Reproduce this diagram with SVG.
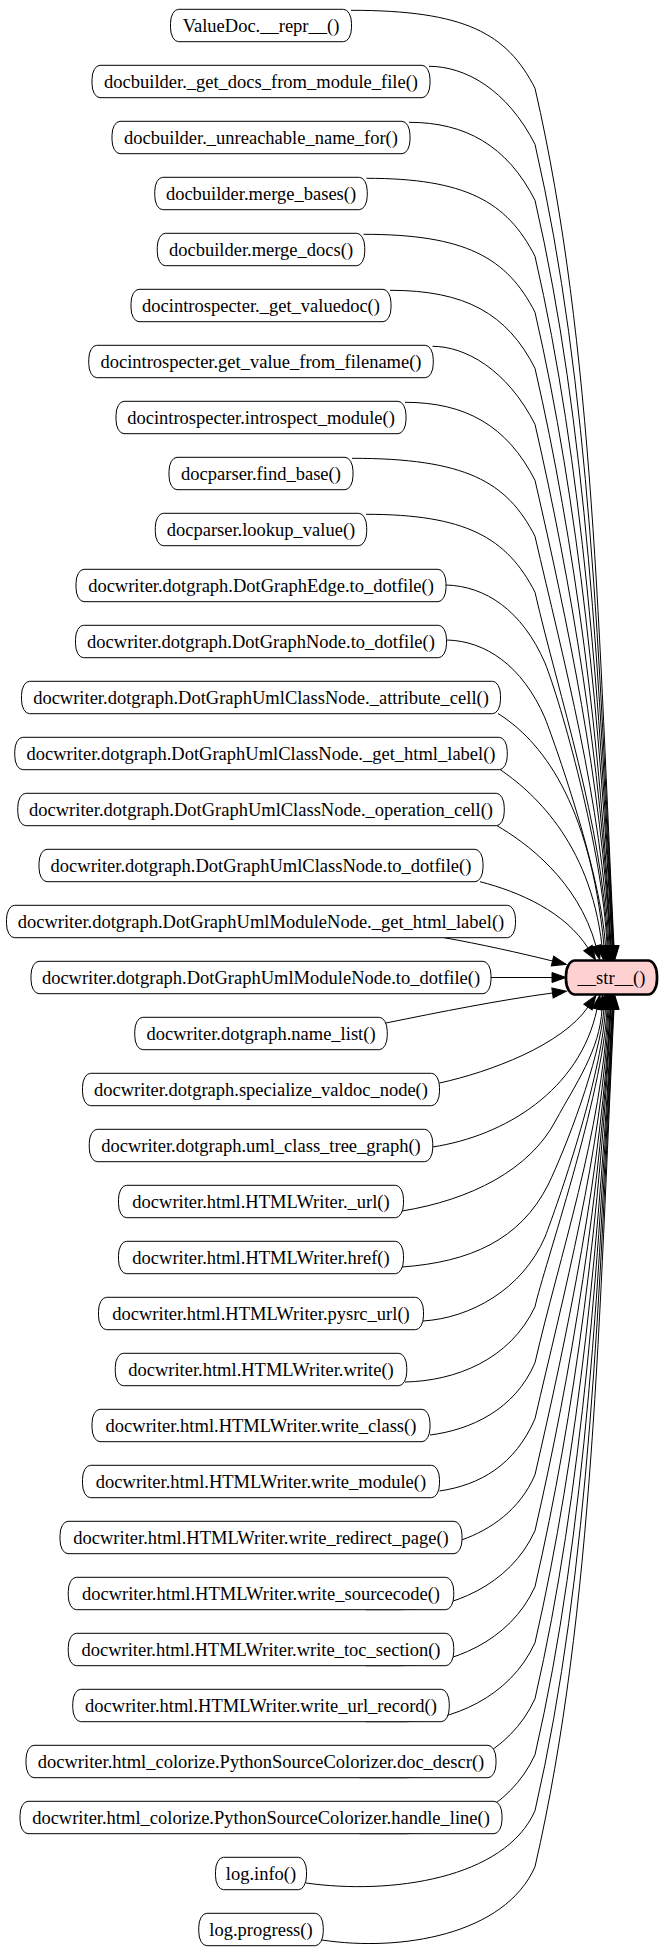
<svg xmlns="http://www.w3.org/2000/svg" width="664" height="1956" viewBox="0 0 664 1956">
<style>
.n rect{fill:#fff;stroke:#000;stroke-width:1}
.n text,.s text{font-family:"Liberation Serif","Times New Roman",serif;font-size:18.5px;text-anchor:middle;fill:#000}
.s rect{fill:#ffd0d0;stroke:#000;stroke-width:2.7}
.e{fill:none;stroke:#000;stroke-width:1;marker-end:url(#ah)}
</style>
<defs>
<marker id="ah" markerUnits="userSpaceOnUse" markerWidth="16" markerHeight="12" viewBox="0 -6 16 12" refX="0" refY="0" orient="auto" overflow="visible">
<path d="M0,-5 L14,0 L0,5 z" fill="#000" stroke="#000" stroke-width="1"/>
</marker>
</defs>
<rect width="664" height="1956" fill="#fff"/>
<g id="edges">
<path class="e" d="M351,10.3 C465,10.3 507,33.3 535,88.3 C594.2,345.6 599,645.8 614,946"/>
<path class="e" d="M429,66.3 C465,66.3 507,89.3 535,144.3 C590.3,384.8 599.5,665.4 613.5,946"/>
<path class="e" d="M409,122.3 C465,122.3 507,145.3 535,200.3 C586.5,424 600,685 613,946"/>
<path class="e" d="M366.5,178.3 C465,178.3 507,201.3 535,256.3 C582.6,463.2 600.4,704.6 612.5,946"/>
<path class="e" d="M363.5,234.3 C465,234.3 507,257.3 535,312.3 C578.7,502.4 600.9,724.2 612,946"/>
<path class="e" d="M390,290.3 C465,290.3 507,313.3 535,368.3 C574.9,541.6 600.9,743.8 611,946"/>
<path class="e" d="M432.5,346.3 C465,346.3 507,369.3 535,424.3 C571,580.8 601.4,763.4 610.5,946"/>
<path class="e" d="M405,402.3 C465,402.3 507,425.3 535,480.3 C567.1,620 601.9,783 610,946"/>
<path class="e" d="M352,458.3 C465,458.3 507,481.3 535,536.3 C563.3,659.2 601.8,802.6 609,946"/>
<path class="e" d="M366,514.3 C465,514.3 507,537.3 535,592.3 C559.4,698.4 601.8,822.2 608,946"/>
<path class="e" d="M446,585 C485,586 522,610 545,663 C560,700 603,850 607,946"/>
<path class="e" d="M447,640 C485,641 522,665 545,718 C558,752 601,875 605.5,946"/>
<path class="e" d="M498,713.5 C540,740 590,800 604,946"/>
<path class="e" d="M500,769.5 C530,790 590,840 602,946"/>
<path class="e" d="M497,825.7 C525,842 578,880 596,946"/>
<path class="e" d="M480,881.7 C520,892 565,912 588,948"/>
<path class="e" d="M444,937.7 C480,944 520,953 552.5,961"/>
<path class="e" d="M491,977.5 L552,977.5"/>
<path class="e" d="M386,1023 C440,1012 500,1000 552.5,993"/>
<path class="e" d="M439.5,1083 C490,1072 562,1045 588,1007"/>
<path class="e" d="M432.5,1147 C505,1136 580,1090 597,1009"/>
<path class="e" d="M402,1211 C470,1200 530,1170 556,1120 C575,1085 600,1050 602,1009"/>
<path class="e" d="M402,1267 C470,1262 520,1240 548,1185 C565,1150 600,1060 604,1009"/>
<path class="e" d="M423,1321 C470,1318 522,1290 545,1237 C558,1203 601,1080 605.5,1009"/>
<path class="e" d="M405,1382 C455,1381 510,1360 535,1306.7 C543.6,1268 603,1095.3 607,1009"/>
<path class="e" d="M430,1435 C470,1430 515,1410 535,1362.7 C559.4,1256.6 601.8,1132.8 608,1009"/>
<path class="e" d="M439.5,1491 C480,1485 515,1465 535,1418.7 C563.3,1295.8 601.8,1152.4 609,1009"/>
<path class="e" d="M461.5,1540 C490,1530 520,1510 535,1474.7 C567.1,1335 601.9,1172 610,1009"/>
<path class="e" d="M366,1609.7 L400,1609.7 C450,1609.7 510,1586 535,1530.7 C571,1374.2 601.4,1191.6 610.5,1009"/>
<path class="e" d="M366,1665.7 L400,1665.7 C450,1665.7 510,1642 535,1586.7 C574.9,1413.4 600.9,1211.2 611,1009"/>
<path class="e" d="M366,1721.7 L405,1721.7 C450,1721.7 510,1698 535,1642.7 C578.7,1452.6 600.9,1230.8 612,1009"/>
<path class="e" d="M359.5,1777.7 L405,1777.7 C450,1777.7 510,1754 535,1698.7 C582.6,1491.8 600.4,1250.4 612.5,1009"/>
<path class="e" d="M359.5,1833.7 L405,1833.7 C450,1833.7 510,1810 535,1754.7 C586.5,1531 600,1270 613,1009"/>
<path class="e" d="M306,1883 C390,1895 505,1879 535,1810.7 C590.3,1570.2 599.5,1289.6 613.5,1009"/>
<path class="e" d="M322,1940 C400,1952 505,1935 535,1866.7 C594.2,1609.4 599,1309.2 614,1009"/>
</g>
<g id="node-0" class="n"><rect x="170.5" y="9.3" width="181" height="32.4" rx="8" ry="14"/><text x="261" y="32">ValueDoc.__repr__()</text></g>
<g id="node-1" class="n"><rect x="92" y="65.3" width="338" height="32.4" rx="8" ry="14"/><text x="261" y="88">docbuilder._get_docs_from_module_file()</text></g>
<g id="node-2" class="n"><rect x="112" y="121.3" width="298" height="32.4" rx="8" ry="14"/><text x="261" y="144">docbuilder._unreachable_name_for()</text></g>
<g id="node-3" class="n"><rect x="154.75" y="177.3" width="212.5" height="32.4" rx="8" ry="14"/><text x="261" y="200">docbuilder.merge_bases()</text></g>
<g id="node-4" class="n"><rect x="157.25" y="233.3" width="207.5" height="32.4" rx="8" ry="14"/><text x="261" y="256">docbuilder.merge_docs()</text></g>
<g id="node-5" class="n"><rect x="131" y="289.3" width="260" height="32.4" rx="8" ry="14"/><text x="261" y="312">docintrospecter._get_valuedoc()</text></g>
<g id="node-6" class="n"><rect x="88.75" y="345.3" width="344.5" height="32.4" rx="8" ry="14"/><text x="261" y="368">docintrospecter.get_value_from_filename()</text></g>
<g id="node-7" class="n"><rect x="116" y="401.3" width="290" height="32.4" rx="8" ry="14"/><text x="261" y="424">docintrospecter.introspect_module()</text></g>
<g id="node-8" class="n"><rect x="169" y="457.3" width="184" height="32.4" rx="8" ry="14"/><text x="261" y="480">docparser.find_base()</text></g>
<g id="node-9" class="n"><rect x="155.3" y="513.3" width="211.4" height="32.4" rx="8" ry="14"/><text x="261" y="536">docparser.lookup_value()</text></g>
<g id="node-10" class="n"><rect x="76" y="569.3" width="370" height="32.4" rx="8" ry="14"/><text x="261" y="592">docwriter.dotgraph.DotGraphEdge.to_dotfile()</text></g>
<g id="node-11" class="n"><rect x="75.5" y="625.3" width="371" height="32.4" rx="8" ry="14"/><text x="261" y="648">docwriter.dotgraph.DotGraphNode.to_dotfile()</text></g>
<g id="node-12" class="n"><rect x="21.5" y="681.3" width="479" height="32.4" rx="8" ry="14"/><text x="261" y="704">docwriter.dotgraph.DotGraphUmlClassNode._attribute_cell()</text></g>
<g id="node-13" class="n"><rect x="14.75" y="737.3" width="492.5" height="32.4" rx="8" ry="14"/><text x="261" y="760">docwriter.dotgraph.DotGraphUmlClassNode._get_html_label()</text></g>
<g id="node-14" class="n"><rect x="17.75" y="793.3" width="486.5" height="32.4" rx="8" ry="14"/><text x="261" y="816">docwriter.dotgraph.DotGraphUmlClassNode._operation_cell()</text></g>
<g id="node-15" class="n"><rect x="39" y="849.3" width="444" height="32.4" rx="8" ry="14"/><text x="261" y="872">docwriter.dotgraph.DotGraphUmlClassNode.to_dotfile()</text></g>
<g id="node-16" class="n"><rect x="6.5" y="905.3" width="509" height="32.4" rx="8" ry="14"/><text x="261" y="928">docwriter.dotgraph.DotGraphUmlModuleNode._get_html_label()</text></g>
<g id="node-17" class="n"><rect x="31" y="961.3" width="460" height="32.4" rx="8" ry="14"/><text x="261" y="984">docwriter.dotgraph.DotGraphUmlModuleNode.to_dotfile()</text></g>
<g id="node-18" class="n"><rect x="134.75" y="1017.3" width="252.5" height="32.4" rx="8" ry="14"/><text x="261" y="1040">docwriter.dotgraph.name_list()</text></g>
<g id="node-19" class="n"><rect x="82.5" y="1073.3" width="357" height="32.4" rx="8" ry="14"/><text x="261" y="1096">docwriter.dotgraph.specialize_valdoc_node()</text></g>
<g id="node-20" class="n"><rect x="89.25" y="1129.3" width="343.5" height="32.4" rx="8" ry="14"/><text x="261" y="1152">docwriter.dotgraph.uml_class_tree_graph()</text></g>
<g id="node-21" class="n"><rect x="118.5" y="1185.3" width="285" height="32.4" rx="8" ry="14"/><text x="261" y="1208">docwriter.html.HTMLWriter._url()</text></g>
<g id="node-22" class="n"><rect x="118.5" y="1241.3" width="285" height="32.4" rx="8" ry="14"/><text x="261" y="1264">docwriter.html.HTMLWriter.href()</text></g>
<g id="node-23" class="n"><rect x="98.5" y="1297.3" width="325" height="32.4" rx="8" ry="14"/><text x="261" y="1320">docwriter.html.HTMLWriter.pysrc_url()</text></g>
<g id="node-24" class="n"><rect x="115.25" y="1353.3" width="291.5" height="32.4" rx="8" ry="14"/><text x="261" y="1376">docwriter.html.HTMLWriter.write()</text></g>
<g id="node-25" class="n"><rect x="92" y="1409.3" width="338" height="32.4" rx="8" ry="14"/><text x="261" y="1432">docwriter.html.HTMLWriter.write_class()</text></g>
<g id="node-26" class="n"><rect x="82.5" y="1465.3" width="357" height="32.4" rx="8" ry="14"/><text x="261" y="1488">docwriter.html.HTMLWriter.write_module()</text></g>
<g id="node-27" class="n"><rect x="60" y="1521.3" width="402" height="32.4" rx="8" ry="14"/><text x="261" y="1544">docwriter.html.HTMLWriter.write_redirect_page()</text></g>
<g id="node-28" class="n"><rect x="68.25" y="1577.3" width="385.5" height="32.4" rx="8" ry="14"/><text x="261" y="1600">docwriter.html.HTMLWriter.write_sourcecode()</text></g>
<g id="node-29" class="n"><rect x="68.25" y="1633.3" width="385.5" height="32.4" rx="8" ry="14"/><text x="261" y="1656">docwriter.html.HTMLWriter.write_toc_section()</text></g>
<g id="node-30" class="n"><rect x="72.75" y="1689.3" width="376.5" height="32.4" rx="8" ry="14"/><text x="261" y="1712">docwriter.html.HTMLWriter.write_url_record()</text></g>
<g id="node-31" class="n"><rect x="26" y="1745.3" width="470" height="32.4" rx="8" ry="14"/><text x="261" y="1768">docwriter.html_colorize.PythonSourceColorizer.doc_descr()</text></g>
<g id="node-32" class="n"><rect x="20" y="1801.3" width="482" height="32.4" rx="8" ry="14"/><text x="261" y="1824">docwriter.html_colorize.PythonSourceColorizer.handle_line()</text></g>
<g id="node-33" class="n"><rect x="215.5" y="1857.3" width="91" height="32.4" rx="8" ry="14"/><text x="261" y="1880">log.info()</text></g>
<g id="node-34" class="n"><rect x="198.75" y="1913.3" width="124.5" height="32.4" rx="8" ry="14"/><text x="261" y="1936">log.progress()</text></g>
<g id="node-str" class="s"><rect x="566" y="960.5" width="91" height="34" rx="9" ry="15"/><text x="611.5" y="984">__str__()</text></g>
</svg>
